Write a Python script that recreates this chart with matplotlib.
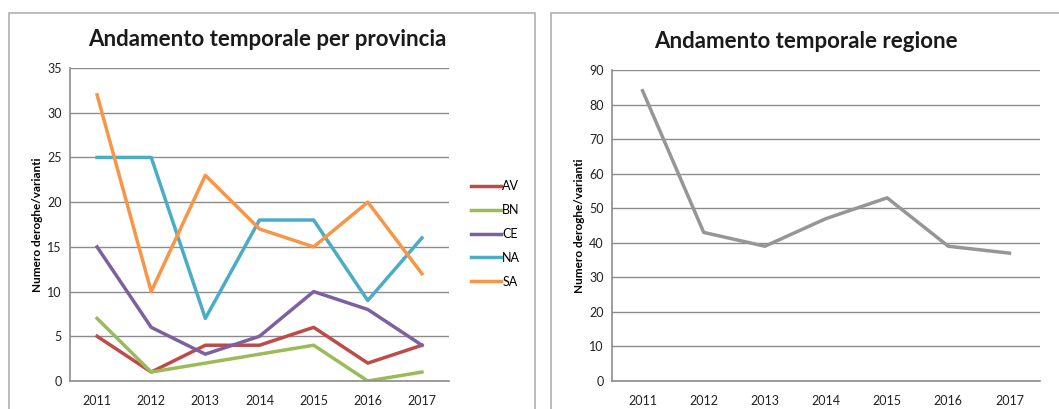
import numpy as np
import matplotlib.pyplot as plt
from matplotlib.patches import Rectangle

years = ['2011', '2012', '2013', '2014', '2015', '2016', '2017']
av = [5, 1, 4, 4, 6, 2, 4]
bn = [7, 1, 2, 3, 4, 0, 1]
ce = [15, 6, 3, 5, 10, 8, 4]
na = [25, 25, 7, 18, 18, 9, 16]
sa = [32, 10, 23, 17, 15, 20, 12]
regione = [84, 43, 39, 47, 53, 39, 37]

province = ['AV', 'BN', 'CE', 'NA', 'SA']
series = [av, bn, ce, na, sa]
colors = ['#BE4B48', '#9BBB59', '#7D60A0', '#4BACC6', '#F79646']

plt.rcParams['font.family'] = ['Lato', 'DejaVu Sans']

W, H = 1059, 409
fig = plt.figure(figsize=(W / 100, H / 100), dpi=100)

def px(x0, y0, x1, y1):
    # pixel box -> figure fraction
    return [x0 / W, 1 - y1 / H, (x1 - x0) / W, (y1 - y0) / H]

# chart borders
fig.patches.append(Rectangle((9 / W, -0.1), (535 - 9) / W, 1.1 - 13 / H,
                             transform=fig.transFigure, fill=False,
                             edgecolor='#b0b0b0', lw=1.2))
fig.patches.append(Rectangle((551 / W, -0.1), 0.5, 1.1 - 13 / H,
                             transform=fig.transFigure, fill=False,
                             edgecolor='#b0b0b0', lw=1.2))

def style(ax, ymax, step):
    ax.set_xlim(-0.5, 6.5)
    ax.set_ylim(0, ymax)
    ax.set_yticks(np.arange(0, ymax + 1, step))
    ax.set_xticks(range(len(years)))
    ax.set_xticklabels(years)
    ax.yaxis.grid(True, color='#8c8c8c', lw=1)
    ax.set_axisbelow(True)
    for s in ['top', 'right']:
        ax.spines[s].set_visible(False)
    for s in ['left', 'bottom']:
        ax.spines[s].set_color('#8c8c8c')
        ax.spines[s].set_linewidth(1.2)
    ax.tick_params(length=0, labelsize=9, colors='#222222', pad=6)
    ax.tick_params(axis='x', pad=10)
    ax.set_ylabel('Numero deroghe/varianti', fontsize=8.5, fontweight='bold', labelpad=3)

ax1 = fig.add_axes(px(70, 68, 449, 381))
for name, vals, c in zip(province, series, colors):
    ax1.plot(range(len(years)), vals, color=c, lw=2.5, label=name)
style(ax1, 35, 5)
fig.text(267 / W, 1 - 39 / H, 'Andamento temporale per provincia', ha='center',
         va='center', fontsize=16, fontweight='bold', color='#1a1a1a')
ax1.legend(loc='center left', bbox_to_anchor=(1.045, 0.47), frameon=False,
           fontsize=9, handlelength=2.4, handletextpad=0.1, labelspacing=0.95,
           borderaxespad=0)

ax2 = fig.add_axes(px(612, 70, 1040, 381))
ax2.plot(range(len(years)), regione, color='#969696', lw=2.5)
style(ax2, 90, 10)
fig.text(806 / W, 1 - 41 / H, 'Andamento temporale regione', ha='center',
         va='center', fontsize=16, fontweight='bold', color='#1a1a1a')

fig.savefig('out.png', dpi=100)
